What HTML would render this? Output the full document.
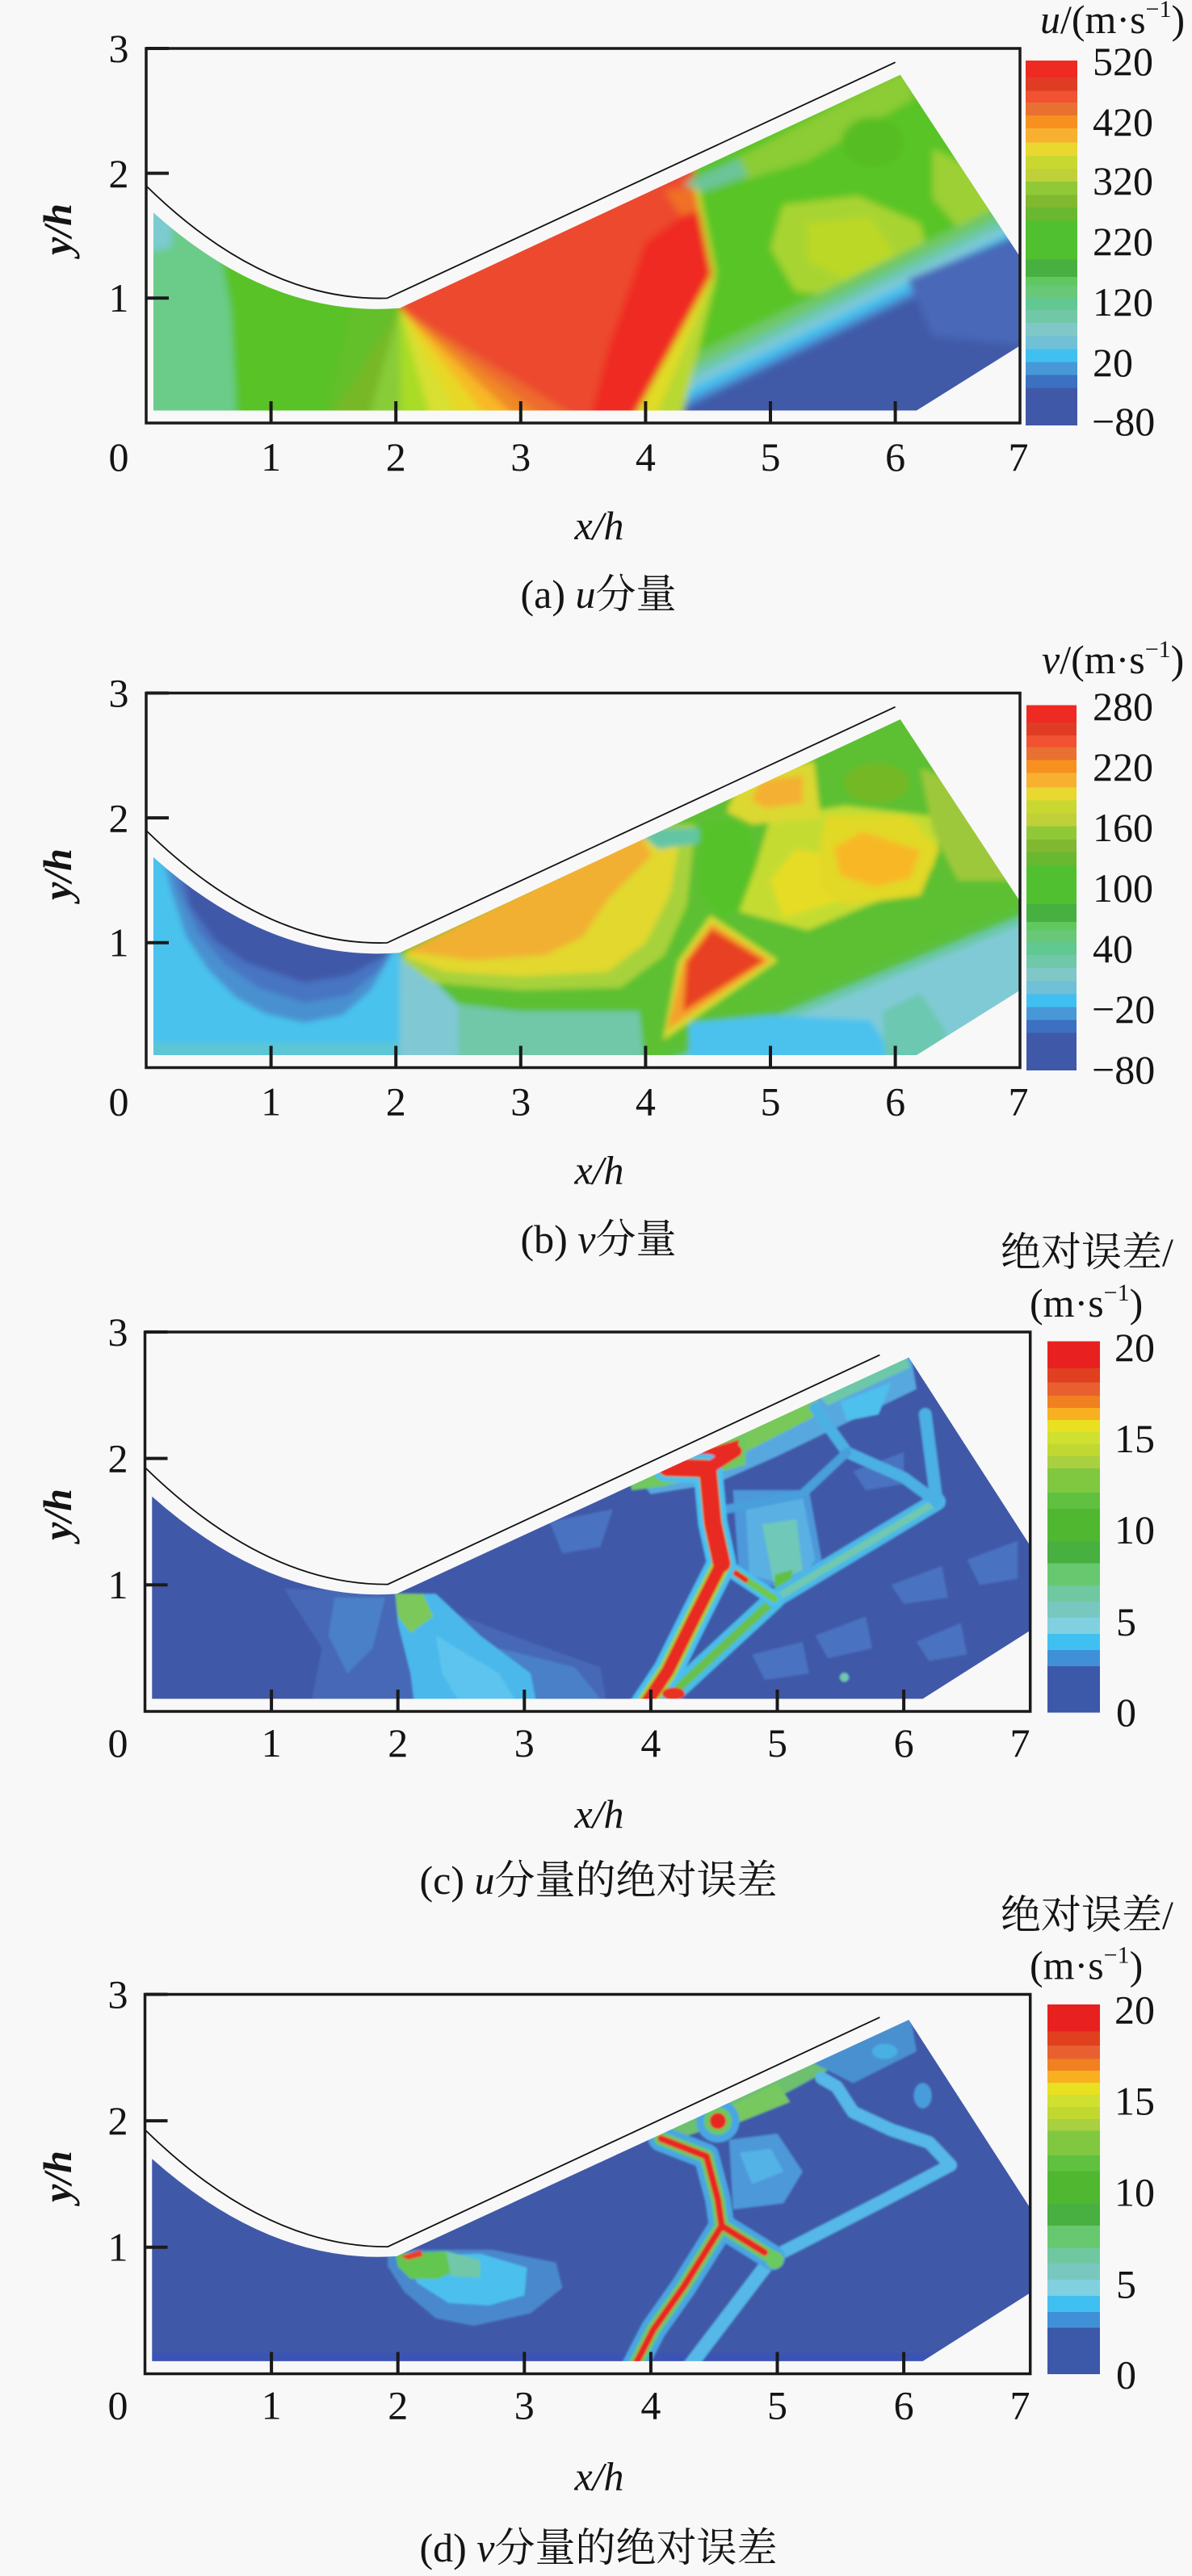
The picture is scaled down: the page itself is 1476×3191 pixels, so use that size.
<!DOCTYPE html>
<html><head><meta charset="utf-8">
<style>
html,body{margin:0;padding:0;background:#f8f8f8;}
svg{display:block;}
text{font-family:"Liberation Serif","Noto Serif CJK SC",serif;font-size:50px;fill:#141414;}
</style></head>
<body>
<svg width="1476" height="3191" viewBox="0 0 1476 3191" xmlns="http://www.w3.org/2000/svg">
<defs>
<linearGradient id="cmA" x1="0" y1="0" x2="0" y2="1">
<stop offset="0" stop-color="#ee2a22"/><stop offset=".047" stop-color="#ee2a22"/>
<stop offset=".047" stop-color="#e03c24"/><stop offset=".083" stop-color="#e03c24"/>
<stop offset=".083" stop-color="#f05232"/><stop offset=".115" stop-color="#f05232"/>
<stop offset=".115" stop-color="#e87030"/><stop offset=".150" stop-color="#e87030"/>
<stop offset=".150" stop-color="#f89020"/><stop offset=".186" stop-color="#f89020"/>
<stop offset=".186" stop-color="#f8b030"/><stop offset=".225" stop-color="#f8b030"/>
<stop offset=".225" stop-color="#e8d830"/><stop offset=".261" stop-color="#e8d830"/>
<stop offset=".261" stop-color="#c8d830"/><stop offset=".296" stop-color="#c8d830"/>
<stop offset=".296" stop-color="#c0d038"/><stop offset=".332" stop-color="#c0d038"/>
<stop offset=".332" stop-color="#90c838"/><stop offset=".368" stop-color="#90c838"/>
<stop offset=".368" stop-color="#80b830"/><stop offset=".403" stop-color="#80b830"/>
<stop offset=".403" stop-color="#68b830"/><stop offset=".439" stop-color="#68b830"/>
<stop offset=".439" stop-color="#50c030"/><stop offset=".545" stop-color="#50c030"/>
<stop offset=".545" stop-color="#48b040"/><stop offset=".593" stop-color="#48b040"/>
<stop offset=".593" stop-color="#60c860"/><stop offset=".617" stop-color="#60c860"/>
<stop offset=".617" stop-color="#68c878"/><stop offset=".648" stop-color="#68c878"/>
<stop offset=".648" stop-color="#60c890"/><stop offset=".684" stop-color="#60c890"/>
<stop offset=".684" stop-color="#70c8a8"/><stop offset=".719" stop-color="#70c8a8"/>
<stop offset=".719" stop-color="#80c8c8"/><stop offset=".755" stop-color="#80c8c8"/>
<stop offset=".755" stop-color="#70c0d8"/><stop offset=".791" stop-color="#70c0d8"/>
<stop offset=".791" stop-color="#40c0f0"/><stop offset=".826" stop-color="#40c0f0"/>
<stop offset=".826" stop-color="#4898d8"/><stop offset=".862" stop-color="#4898d8"/>
<stop offset=".862" stop-color="#3c70c0"/><stop offset=".897" stop-color="#3c70c0"/>
<stop offset=".897" stop-color="#4058a8"/><stop offset="1" stop-color="#4058a8"/>
</linearGradient>
<linearGradient id="cmC" x1="0" y1="0" x2="0" y2="1">
<stop offset="0" stop-color="#e82020"/><stop offset=".073" stop-color="#e82020"/>
<stop offset=".073" stop-color="#e04020"/><stop offset=".111" stop-color="#e04020"/>
<stop offset=".111" stop-color="#e86030"/><stop offset=".147" stop-color="#e86030"/>
<stop offset=".147" stop-color="#f08020"/><stop offset=".179" stop-color="#f08020"/>
<stop offset=".179" stop-color="#f8b020"/><stop offset=".212" stop-color="#f8b020"/>
<stop offset=".212" stop-color="#e8e020"/><stop offset=".245" stop-color="#e8e020"/>
<stop offset=".245" stop-color="#d0e030"/><stop offset=".277" stop-color="#d0e030"/>
<stop offset=".277" stop-color="#c0d830"/><stop offset=".310" stop-color="#c0d830"/>
<stop offset=".310" stop-color="#a8d040"/><stop offset=".342" stop-color="#a8d040"/>
<stop offset=".342" stop-color="#80c840"/><stop offset=".408" stop-color="#80c840"/>
<stop offset=".408" stop-color="#60c040"/><stop offset=".451" stop-color="#60c040"/>
<stop offset=".451" stop-color="#50b830"/><stop offset=".538" stop-color="#50b830"/>
<stop offset=".538" stop-color="#48b040"/><stop offset=".598" stop-color="#48b040"/>
<stop offset=".598" stop-color="#68c870"/><stop offset=".658" stop-color="#68c870"/>
<stop offset=".658" stop-color="#70c8a0"/><stop offset=".701" stop-color="#70c8a0"/>
<stop offset=".701" stop-color="#78c8c0"/><stop offset=".745" stop-color="#78c8c0"/>
<stop offset=".745" stop-color="#80d0e0"/><stop offset=".788" stop-color="#80d0e0"/>
<stop offset=".788" stop-color="#40c0f0"/><stop offset=".832" stop-color="#40c0f0"/>
<stop offset=".832" stop-color="#4090d8"/><stop offset=".875" stop-color="#4090d8"/>
<stop offset=".875" stop-color="#3c58a8"/><stop offset="1" stop-color="#3c58a8"/>
</linearGradient>
<filter id="fA" x="-0.1" y="-0.1" width="1.2" height="1.2"><feGaussianBlur stdDeviation="0.03"/></filter>
<filter id="fB" x="-0.1" y="-0.1" width="1.2" height="1.2"><feGaussianBlur stdDeviation="0.022"/></filter>
<filter id="fC" x="-0.1" y="-0.1" width="1.2" height="1.2"><feGaussianBlur stdDeviation="0.009"/></filter>
<clipPath id="domAB" clipPathUnits="userSpaceOnUse"><path d="M0.058,0.1 L0.058,1.686 Q1.0,0.84 2.03,0.92 L6.04,2.79 L7.0,1.33 L7.0,0.62 L6.17,0.1 Z"/></clipPath>
<clipPath id="domCD" clipPathUnits="userSpaceOnUse"><path d="M0.056,0.1 L0.056,1.70 Q1.0,0.86 1.99,0.93 L6.04,2.80 L7.0,1.31 L7.0,0.64 L6.15,0.1 Z"/></clipPath>
</defs>

<!-- ================= PANEL A ================= -->
<g transform="translate(181,524) scale(154.6,-154.6)">
 <g clip-path="url(#domAB)">
  <g filter="url(#fA)">
   <rect x="-1" y="-1" width="10" height="6" fill="#58c228"/>
   <polygon points="-1,-1 0.62,-1 0.72,0.1 0.68,0.9 0.55,1.6 0.45,3 -1,3" fill="#6acc88"/>
   <polygon points="-1,1.25 0.2,1.4 0.28,3 -1,3" fill="#7ccbd0"/>
   <polygon points="1.2,-1 1.78,-1 1.9,0.5 2.0,0.95 1.7,1.2" fill="#6cbc2a" opacity="0.6"/>
   <polygon points="2.03,0.92 3.52,0 3.879,0 4.53,1.19 4.39,1.88 4.39,3.5 2.03,3.5" fill="#ec4a2e"/>
   <polygon points="3.55,0 3.879,0 4.53,1.19 4.42,1.75 4.0,1.45 3.7,0.6" fill="#ee2a20"/>
   <polygon points="4.15,1.86 4.39,1.9 4.44,1.7 4.28,1.66" fill="#f07028"/>
   <polygon points="2.03,0.92 1.459,0 1.773,0" fill="#78b828"/>
   <polygon points="2.03,0.92 1.773,0 2.041,0" fill="#88cc38"/>
   <polygon points="2.03,0.92 2.041,0 2.288,0" fill="#a8dc28"/>
   <polygon points="2.03,0.92 2.288,0 2.53,0" fill="#d8e030"/>
   <polygon points="2.03,0.92 2.53,0 2.772,0" fill="#e8d828"/>
   <polygon points="2.03,0.92 2.772,0 3.008,0" fill="#f8b828"/>
   <polygon points="2.03,0.92 3.008,0 3.25,0" fill="#f08828"/>
   <polygon points="2.03,0.92 3.25,0 3.52,0" fill="#ee6a2e"/>
   <!-- right of shock -->
   <polygon points="3.879,0 4.53,1.19 4.39,1.88 4.39,4 9,4 9,-1 3.33,-1" fill="#58c428"/>
   <polygon points="4.6,2.05 6.1,2.85 6.15,2.6 5.3,2.1 4.8,1.95" fill="#8ccc34"/>
   <polygon points="4.3,1.92 4.75,2.12 4.82,1.98 4.45,1.85" fill="#6cc498"/>
   <ellipse cx="5.82" cy="2.25" rx="0.25" ry="0.2" fill="#56be22"/>
   <polygon points="6.3,2.2 6.7,2.0 7.1,1.45 6.6,1.45 6.3,1.8" fill="#9cd034"/>
   <polygon points="5.1,1.75 5.7,1.82 6.2,1.6 6.3,1.2 5.8,1.0 5.2,1.05 5.0,1.4" fill="#a8d430"/>
   <polygon points="5.3,1.6 5.8,1.65 6.0,1.35 5.6,1.15 5.3,1.3" fill="#bcd828"/>
   <polygon points="4.104,0.41 8,2.308 8,-1 3.33,-1" fill="#70c868"/>
   <polygon points="4.029,0.274 8,2.208 8,-1 3.33,-1" fill="#6cc8a8"/>
   <polygon points="3.969,0.165 8,2.128 8,-1 3.33,-1" fill="#7cc8d8"/>
   <polygon points="3.91,0.056 8,2.048 8,-1 3.33,-1" fill="#44c0ee"/>
   <polygon points="3.857,-0.04 8,1.978 8,-1 3.33,-1" fill="#4a90d4"/>
   <polygon points="3.813,-0.121 8,1.918 8,-1 3.33,-1" fill="#3f5aa8"/>
   <polygon points="6.1,1.15 7.2,1.6 7.2,0.6 6.3,0.7" fill="#4a68b8"/>
   <polygon points="3.88,0 4.28,0 4.56,1.15 4.53,1.19" fill="#b8d830"/>
   <polygon points="3.88,0 4.06,0 4.55,1.19 4.53,1.19" fill="#e0dc28"/>
   <polyline points="4.55,1.19 4.41,1.88" fill="none" stroke="#d8dc30" stroke-width="0.03"/>
  </g>
 </g>
 <path d="M0,1.9 Q0.95,0.97 1.93,1.0 L6.0,2.89" fill="none" stroke="#111" stroke-width="1.8" vector-effect="non-scaling-stroke"/>
</g>
<rect x="181" y="60" width="1082" height="464" fill="none" stroke="#1a1a1a" stroke-width="3.5"/>
<g stroke="#1a1a1a" stroke-width="4">
 <line x1="181" y1="60" x2="209" y2="60"/><line x1="181" y1="214.6" x2="209" y2="214.6"/><line x1="181" y1="369.2" x2="209" y2="369.2"/>
 <line x1="335.6" y1="524" x2="335.6" y2="497"/><line x1="490.2" y1="524" x2="490.2" y2="497"/><line x1="644.8" y1="524" x2="644.8" y2="497"/>
 <line x1="799.4" y1="524" x2="799.4" y2="497"/><line x1="954" y1="524" x2="954" y2="497"/><line x1="1108.6" y1="524" x2="1108.6" y2="497"/>
</g>
<g text-anchor="middle">
 <text x="147" y="77">3</text><text x="147" y="232">2</text><text x="147" y="386">1</text>
 <text x="147" y="583">0</text><text x="335.6" y="583">1</text><text x="490.2" y="583">2</text><text x="644.8" y="583">3</text>
 <text x="799.4" y="583">4</text><text x="954" y="583">5</text><text x="1108.6" y="583">6</text><text x="1261" y="583">7</text>
 <text x="742" y="668" font-style="italic">x/h</text>
 <text x="741" y="753">(a) <tspan font-style="italic">u</tspan>分量</text>
 <text transform="translate(88,284) rotate(-90)" font-style="italic" font-weight="bold">y/h</text>
</g>
<rect x="1270" y="75" width="64" height="452" fill="url(#cmA)"/>
<text x="1288" y="41"><tspan font-style="italic">u</tspan>/(m·s<tspan font-size="30" dy="-20">−1</tspan><tspan dy="20">)</tspan></text>
<g>
 <text x="1353" y="93">520</text><text x="1353" y="168">420</text><text x="1353" y="241">320</text><text x="1353" y="316">220</text>
 <text x="1353" y="391">120</text><text x="1353" y="466">20</text><text x="1352" y="539">−80</text>
</g>

<!-- ================= PANEL B ================= -->
<g transform="translate(181,1322.5) scale(154.6,-154.6)">
 <g clip-path="url(#domAB)">
  <g filter="url(#fB)">
   <rect x="-1" y="-1" width="10" height="6" fill="#5cc030"/>
   <!-- left region -->
   <polygon points="-1,-1 2.03,-1 2.03,4 -1,4" fill="#48c2ee"/>
   <polygon points="-1,-1 2.03,-1 2.03,0.2 -1,0.2" fill="#5cc6d4"/>
   <polygon points="0.12,1.75 0.2,1.42 0.32,1.05 0.5,0.78 0.72,0.56 0.96,0.43 1.265,0.36 1.57,0.42 1.8,0.62 1.95,0.88 2.1,1.5 0.3,2.5" fill="#4a90d0"/>
   <polygon points="0.18,1.75 0.27,1.4 0.42,1.08 0.62,0.84 0.9,0.64 1.27,0.52 1.62,0.58 1.86,0.78 1.98,0.95 2.1,1.5 0.5,2.5" fill="#4674c2"/>
   <polygon points="0.25,1.75 0.35,1.3 0.55,1.02 0.8,0.84 1.265,0.68 1.63,0.74 1.88,0.88 2.0,1.0 1.0,2.5" fill="#3f58a8"/>
   <!-- middle region -->
   <polygon points="2.03,-1 4.1,-1 3.95,0.45 3.0,0.45 2.4,0.52 2.03,0.62" fill="#70c8a8"/>
   <polygon points="2.03,-1 2.5,-1 2.5,0.5 2.2,0.8 2.03,0.9" fill="#80c8d4"/>
   <polygon points="2.05,0.86 2.3,0.68 3.0,0.62 3.8,0.64 4.15,0.9 4.33,1.3 4.4,1.95 4.0,1.95" fill="#a8d23a"/>
   <polygon points="2.05,0.9 2.4,0.77 3.0,0.73 3.7,0.77 4.0,1.0 4.2,1.4 4.28,1.88 4.0,1.9" fill="#e2d82e"/>
   <polygon points="2.08,0.93 2.6,0.86 3.2,0.9 3.5,1.05 3.7,1.35 4.05,1.7 3.95,1.88" fill="#f2b030"/>
   <polygon points="3.9,1.92 4.43,1.92 4.43,1.8 4.1,1.75" fill="#62c6a4"/>
   <!-- right region -->
   <polygon points="4.45,1.95 4.8,1.98 4.9,1.6 4.85,1.3 4.6,1.2 4.43,1.4" fill="#56c22a"/>
   <polygon points="4.75,1.25 5.3,1.1 5.9,1.35 6.3,1.6 6.4,2.0 5.6,2.1 5.0,2.0 4.88,1.6" fill="#c4dc30"/>
   <polygon points="5.1,1.2 5.6,1.35 5.5,1.7 5.2,1.75 5.0,1.5" fill="#e6dc26"/>
   <polygon points="6.2,2.4 6.6,2.25 6.95,1.5 6.5,1.5 6.3,1.9" fill="#9ec83a"/>
   <ellipse cx="5.85" cy="2.28" rx="0.26" ry="0.16" fill="#74b828"/>
   <polygon points="4.8,2.4 5.35,2.45 5.4,2.0 4.85,1.95 4.65,2.05" fill="#dcd830"/>
   <polygon points="4.92,2.3 5.26,2.34 5.26,2.12 4.96,2.08 4.85,2.14" fill="#f4b030"/>
   <polygon points="5.45,2.02 6.1,2.02 6.35,1.75 6.2,1.38 5.6,1.3 5.4,1.45 5.4,1.8" fill="#e2d828"/>
   <polygon points="5.73,1.89 6.2,1.74 6.12,1.52 5.84,1.45 5.56,1.54 5.51,1.76" fill="#f8b828"/>
   <polygon points="3.8,0 8,1.724 8,-1 3.8,-1" fill="#5cc03a"/>
   <polygon points="3.9,-0.05 8,1.624 8,-1 3.9,-1" fill="#6cc8a8"/>
   <polygon points="3.95,-0.1 8,1.55 8,-1 3.95,-1" fill="#80cad6"/>
   <polygon points="4.35,-0.5 4.35,0.36 5.0,0.42 5.8,0.38 5.95,0.15 5.95,-0.5" fill="#4cc2ee"/>
   <polygon points="5.95,-0.5 5.9,0.45 6.2,0.6 6.4,0.3 6.4,-0.5" fill="#6cc8b0"/>
   <!-- red triangle -->
   <polygon points="4.52,1.22 5.06,0.86 4.14,0.22 4.26,0.85" fill="#d8dc30"/>
   <polygon points="4.53,1.16 5.0,0.86 4.17,0.3 4.3,0.85" fill="#f4a02c"/>
   <polygon points="4.53,1.11 4.95,0.857 4.3,0.45 4.33,0.85" fill="#e84020"/>
  </g>
 </g>
 <path d="M0,1.9 Q0.95,0.97 1.93,1.0 L6.0,2.89" fill="none" stroke="#111" stroke-width="1.8" vector-effect="non-scaling-stroke"/>
</g>
<rect x="181" y="858.5" width="1082" height="464" fill="none" stroke="#1a1a1a" stroke-width="3.5"/>
<g stroke="#1a1a1a" stroke-width="4">
 <line x1="181" y1="858.5" x2="209" y2="858.5"/><line x1="181" y1="1013.1" x2="209" y2="1013.1"/><line x1="181" y1="1167.7" x2="209" y2="1167.7"/>
 <line x1="335.6" y1="1322.5" x2="335.6" y2="1295.5"/><line x1="490.2" y1="1322.5" x2="490.2" y2="1295.5"/><line x1="644.8" y1="1322.5" x2="644.8" y2="1295.5"/>
 <line x1="799.4" y1="1322.5" x2="799.4" y2="1295.5"/><line x1="954" y1="1322.5" x2="954" y2="1295.5"/><line x1="1108.6" y1="1322.5" x2="1108.6" y2="1295.5"/>
</g>
<g text-anchor="middle">
 <text x="147" y="875.5">3</text><text x="147" y="1030.5">2</text><text x="147" y="1184.5">1</text>
 <text x="147" y="1381.5">0</text><text x="335.6" y="1381.5">1</text><text x="490.2" y="1381.5">2</text><text x="644.8" y="1381.5">3</text>
 <text x="799.4" y="1381.5">4</text><text x="954" y="1381.5">5</text><text x="1108.6" y="1381.5">6</text><text x="1261" y="1381.5">7</text>
 <text x="742" y="1466.5" font-style="italic">x/h</text>
 <text x="741" y="1552">(b) <tspan font-style="italic">v</tspan>分量</text>
 <text transform="translate(88,1083) rotate(-90)" font-style="italic" font-weight="bold">y/h</text>
</g>
<rect x="1271" y="873.5" width="62" height="452.5" fill="url(#cmA)"/>
<text x="1290" y="834"><tspan font-style="italic">v</tspan>/(m·s<tspan font-size="30" dy="-20">−1</tspan><tspan dy="20">)</tspan></text>
<g>
 <text x="1353" y="892">280</text><text x="1353" y="967">220</text><text x="1353" y="1042">160</text><text x="1353" y="1117">100</text>
 <text x="1353" y="1192">40</text><text x="1352" y="1267">−20</text><text x="1352" y="1342">−80</text>
</g>

<!-- ================= PANEL C ================= -->
<g transform="translate(179.5,2120) scale(156.6,-156.6)">
 <g clip-path="url(#domCD)">
  <g filter="url(#fC)">
   <rect x="-1" y="-1" width="10" height="6" fill="#3f58a8"/>
   <polygon points="1.1,0.97 2.0,0.95 2.9,0.6 3.6,0.35 3.75,-0.5 1.2,-0.5 1.4,0.5" fill="#4668b6"/>
   <polygon points="1.5,0.9 1.9,0.9 1.8,0.5 1.6,0.3 1.45,0.6" fill="#4a80c8"/>
   <polygon points="2.8,0.5 3.4,0.35 3.6,0.1 3.0,0.05" fill="#4a80c8"/>
   <polygon points="1.98,0.93 2.3,0.93 2.65,0.6 3.05,0.3 3.2,-0.5 2.2,-0.5 2.1,0.3 2.0,0.7" fill="#4cb8ec"/>
   <polygon points="2.3,0.6 2.8,0.3 2.95,0.05 2.5,0.05 2.35,0.3" fill="#5cc4ee"/>
   <polygon points="1.98,0.93 2.2,0.93 2.28,0.75 2.1,0.62 2.0,0.75" fill="#7cc85a"/>
   <!-- near-wall strip -->
   <polygon points="3.9,1.84 6.05,2.85 6.1,2.55 5.0,2.02 4.5,1.8 4.0,1.72" fill="#58a8e0"/>
   <polygon points="4.1,1.95 5.3,2.5 5.35,2.36 4.45,1.9" fill="#78c85a"/>
   <polygon points="5.3,2.52 6.0,2.85 6.05,2.72 5.4,2.42" fill="#6cc8a8"/>
   <polygon points="5.5,2.45 5.9,2.6 5.8,2.35 5.55,2.3" fill="#4ec0ee"/>
   <polygon points="3.85,1.75 4.1,1.78 4.5,1.88 4.75,1.95 4.75,2.3 3.8,2.0" fill="#70c860"/>
   <polygon points="4.05,1.9 4.45,2.08 4.7,2.15 4.68,2.04 4.45,1.93 4.15,1.85" fill="#e82a20"/>
   <!-- light patch near junction -->
   <polygon points="4.65,1.75 5.25,1.75 5.35,1.2 5.15,0.95 4.7,1.05" fill="#4e98da"/>
   <polygon points="4.75,1.62 5.2,1.7 5.3,1.2 5.15,0.98 4.78,1.08" fill="#5ab0e2"/>
   <polygon points="4.88,1.48 5.15,1.52 5.2,1.12 4.97,1.02" fill="#70c8b8"/>
   <polygon points="4.98,1.08 5.12,1.12 5.1,0.92 4.98,0.92" fill="#60c040"/>
   <!-- lighter mottling in right -->
   <g fill="#4a72c0">
    <polygon points="5.3,0.6 5.7,0.75 5.75,0.5 5.4,0.42"/>
    <polygon points="5.9,1.0 6.3,1.15 6.35,0.9 6.0,0.85"/>
    <polygon points="6.1,0.55 6.45,0.7 6.5,0.45 6.2,0.4"/>
    <polygon points="6.5,1.2 6.9,1.35 6.9,1.05 6.6,1.0"/>
    <polygon points="4.8,0.45 5.2,0.55 5.25,0.3 4.9,0.25"/>
    <polygon points="5.6,1.9 6.0,2.05 6.0,1.8 5.7,1.75"/>
    <polygon points="3.2,1.5 3.7,1.6 3.6,1.3 3.3,1.25"/>
   </g>
   <!-- lines -->
   <g fill="none" stroke-linecap="round" stroke-linejoin="round">
    <path d="M4.98,0.89 L4.07,0.05" stroke="#48bce8" stroke-width="0.16"/>
    <path d="M4.98,0.89 L4.07,0.05" stroke="#68c050" stroke-width="0.07"/>
    <path d="M4.98,0.89 L6.26,1.66" stroke="#4cb8e8" stroke-width="0.14"/>
    <path d="M4.98,0.89 L6.26,1.66" stroke="#70c8b0" stroke-width="0.06"/>
    <path d="M6.26,1.66 L6.17,2.35" stroke="#4cb0e4" stroke-width="0.1"/>
    <path d="M5.3,2.4 L5.55,2.05 L6.0,1.85 L6.26,1.66" stroke="#4cb0e4" stroke-width="0.09"/>
    <path d="M4.6,1.6 L5.2,1.72 L5.55,2.05" stroke="#4a9edc" stroke-width="0.07"/>
    <path d="M4.56,1.17 L4.98,0.89" stroke="#48c0f0" stroke-width="0.12"/>
    <path d="M4.56,1.17 L4.98,0.89" stroke="#70c850" stroke-width="0.06"/>
    <path d="M4.56,1.17 L4.75,1.04" stroke="#e82a20" stroke-width="0.045"/>
    <path d="M4.13,1.93 L4.45,1.92 L4.49,1.49 L4.56,1.17 L4.345,0.746 L4.133,0.319 L3.92,0.0" stroke="#48c0f0" stroke-width="0.23"/>
    <path d="M4.13,1.93 L4.45,1.92 L4.49,1.49 L4.56,1.17 L4.345,0.746 L4.133,0.319 L3.92,0.0" stroke="#9cd040" stroke-width="0.15"/>
    <path d="M4.56,1.17 L4.345,0.746 L4.133,0.319 L3.92,0.0" stroke="#e82a20" stroke-width="0.1"/>
    <path d="M4.13,1.93 L4.45,1.92 L4.49,1.49 L4.56,1.17" stroke="#e82a20" stroke-width="0.14"/>
    <path d="M4.45,1.92 L4.67,2.06" stroke="#e82a20" stroke-width="0.1"/>
   </g>
   <ellipse cx="4.18" cy="0.14" rx="0.09" ry="0.05" fill="#e83020"/>
   <circle cx="5.53" cy="0.27" r="0.035" fill="#70c8b0"/>
  </g>
 </g>
 <path d="M0,1.93 Q0.95,1.0 1.92,1.005 L5.81,2.82" fill="none" stroke="#111" stroke-width="1.8" vector-effect="non-scaling-stroke"/>
</g>
<rect x="179.5" y="1650" width="1096.2" height="470" fill="none" stroke="#1a1a1a" stroke-width="3.5"/>
<g stroke="#1a1a1a" stroke-width="4">
 <line x1="179.5" y1="1650" x2="207.5" y2="1650"/><line x1="179.5" y1="1806.6" x2="207.5" y2="1806.6"/><line x1="179.5" y1="1963.2" x2="207.5" y2="1963.2"/>
 <line x1="336.1" y1="2120" x2="336.1" y2="2093"/><line x1="492.7" y1="2120" x2="492.7" y2="2093"/><line x1="649.3" y1="2120" x2="649.3" y2="2093"/>
 <line x1="805.9" y1="2120" x2="805.9" y2="2093"/><line x1="962.5" y1="2120" x2="962.5" y2="2093"/><line x1="1119.1" y1="2120" x2="1119.1" y2="2093"/>
</g>
<g text-anchor="middle">
 <text x="146" y="1667">3</text><text x="146" y="1823.6">2</text><text x="146" y="1980">1</text>
 <text x="146" y="2176">0</text><text x="336.1" y="2176">1</text><text x="492.7" y="2176">2</text><text x="649.3" y="2176">3</text>
 <text x="805.9" y="2176">4</text><text x="962.5" y="2176">5</text><text x="1119.1" y="2176">6</text><text x="1263" y="2176">7</text>
 <text x="742" y="2264" font-style="italic">x/h</text>
 <text x="741" y="2346">(c) <tspan font-style="italic">u</tspan>分量的绝对误差</text>
 <text transform="translate(88,1876) rotate(-90)" font-style="italic" font-weight="bold">y/h</text>
 <text x="1346" y="1568">绝对误差/</text>
</g>
<rect x="1297" y="1661.5" width="65" height="460" fill="url(#cmC)"/>
<text x="1275" y="1631">(m·s<tspan font-size="30" dy="-20">−1</tspan><tspan dy="20">)</tspan></text>
<g>
 <text x="1380" y="1686">20</text><text x="1380" y="1799">15</text><text x="1380" y="1912">10</text><text x="1382" y="2026">5</text><text x="1382" y="2138">0</text>
</g>

<!-- ================= PANEL D ================= -->
<g transform="translate(179.5,2940.5) scale(156.6,-156.6)">
 <g clip-path="url(#domCD)">
  <g filter="url(#fC)">
   <rect x="-1" y="-1" width="10" height="6" fill="#3f58a8"/>
   <polygon points="-1,-1 8,-1 8,0.16 -1,0.16" fill="#3a52b4"/>
   <polygon points="1.92,0.98 2.75,0.98 3.25,0.88 3.3,0.68 3.05,0.48 2.6,0.38 2.3,0.44 2.05,0.65 1.92,0.85" fill="#4a88cc"/>
   <polygon points="2.08,0.93 2.65,0.95 3.02,0.84 3.0,0.62 2.72,0.54 2.4,0.56 2.15,0.72" fill="#4cc0ee"/>
   <polygon points="1.98,0.95 2.38,0.97 2.5,0.84 2.32,0.75 2.1,0.75 2.0,0.85" fill="#64c650"/>
   <polygon points="2.38,0.97 2.65,0.9 2.65,0.76 2.42,0.77" fill="#70c8a8"/>
   <polygon points="2.02,0.93 2.18,0.98 2.2,0.93 2.08,0.9" fill="#e84020"/>
   <!-- wall strip -->
   <polygon points="4.0,1.92 5.3,2.55 5.4,2.4 4.7,2.02 4.1,1.82" fill="#6cc070"/>
   <polygon points="5.2,2.5 6.05,2.85 6.1,2.55 5.6,2.3" fill="#4a90d0"/>
   <polygon points="4.5,2.05 5.0,2.3 5.1,2.15 4.6,1.95" fill="#78c860"/>
   <polygon points="4.62,1.85 5.0,1.9 5.2,1.6 5.05,1.35 4.65,1.3" fill="#4e98d8"/>
   <polygon points="4.7,1.75 4.95,1.78 5.05,1.6 4.8,1.5" fill="#52b2e6"/>
   <ellipse cx="5.85" cy="2.55" rx="0.1" ry="0.06" fill="#4ab0e4"/>
   <ellipse cx="6.15" cy="2.2" rx="0.07" ry="0.1" fill="#4a9cdc"/>
   <g fill="none" stroke-linecap="round" stroke-linejoin="round">
    <path d="M4.96,0.92 L4.26,0.0" stroke="#56b8e8" stroke-width="0.11"/>
    <path d="M4.96,0.92 L5.8,1.35 L6.37,1.65 L6.2,1.83 L5.9,1.93 L5.6,2.07 L5.47,2.27 L5.35,2.34" stroke="#56b8e8" stroke-width="0.1"/>
    <path d="M4.08,1.86 L4.44,1.72 L4.53,1.38 L4.56,1.17 L4.26,0.69 L4.02,0.35 L3.84,0.0 M4.56,1.17 L4.96,0.92" stroke="#4aa6e2" stroke-width="0.2"/>
    <path d="M4.08,1.86 L4.44,1.72 L4.53,1.38 L4.56,1.17 L4.26,0.69 L4.02,0.35 L3.84,0.0 M4.56,1.17 L4.96,0.92" stroke="#6cc860" stroke-width="0.11"/>
    <path d="M4.08,1.86 L4.44,1.72 L4.53,1.38 L4.56,1.17 L4.26,0.69 L4.02,0.35 L3.84,0.0 M4.56,1.17 L4.9,0.96" stroke="#e82820" stroke-width="0.055"/>
   </g>
   <circle cx="4.98" cy="0.9" r="0.07" fill="#6cc860"/>
   <circle cx="4.53" cy="2.0" r="0.17" fill="#4aa6e2"/>
   <circle cx="4.53" cy="2.0" r="0.11" fill="#6cc860"/>
   <circle cx="4.53" cy="2.0" r="0.065" fill="#e82820"/>
  </g>
 </g>
 <path d="M0,1.93 Q0.95,1.0 1.92,1.005 L5.81,2.82" fill="none" stroke="#111" stroke-width="1.8" vector-effect="non-scaling-stroke"/>
</g>
<rect x="179.5" y="2470.5" width="1096.2" height="470" fill="none" stroke="#1a1a1a" stroke-width="3.5"/>
<g stroke="#1a1a1a" stroke-width="4">
 <line x1="179.5" y1="2470.5" x2="207.5" y2="2470.5"/><line x1="179.5" y1="2627.1" x2="207.5" y2="2627.1"/><line x1="179.5" y1="2783.7" x2="207.5" y2="2783.7"/>
 <line x1="336.1" y1="2940.5" x2="336.1" y2="2913.5"/><line x1="492.7" y1="2940.5" x2="492.7" y2="2913.5"/><line x1="649.3" y1="2940.5" x2="649.3" y2="2913.5"/>
 <line x1="805.9" y1="2940.5" x2="805.9" y2="2913.5"/><line x1="962.5" y1="2940.5" x2="962.5" y2="2913.5"/><line x1="1119.1" y1="2940.5" x2="1119.1" y2="2913.5"/>
</g>
<g text-anchor="middle">
 <text x="146" y="2487.5">3</text><text x="146" y="2644.1">2</text><text x="146" y="2800.5">1</text>
 <text x="146" y="2996.5">0</text><text x="336.1" y="2996.5">1</text><text x="492.7" y="2996.5">2</text><text x="649.3" y="2996.5">3</text>
 <text x="805.9" y="2996.5">4</text><text x="962.5" y="2996.5">5</text><text x="1119.1" y="2996.5">6</text><text x="1263" y="2996.5">7</text>
 <text x="742" y="3084.5" font-style="italic">x/h</text>
 <text x="741" y="3173">(d) <tspan font-style="italic">v</tspan>分量的绝对误差</text>
 <text transform="translate(88,2696) rotate(-90)" font-style="italic" font-weight="bold">y/h</text>
 <text x="1346" y="2389">绝对误差/</text>
</g>
<rect x="1297" y="2483" width="65" height="458" fill="url(#cmC)"/>
<text x="1275" y="2451.5">(m·s<tspan font-size="30" dy="-20">−1</tspan><tspan dy="20">)</tspan></text>
<g>
 <text x="1380" y="2506.5">20</text><text x="1380" y="2619.5">15</text><text x="1380" y="2732.5">10</text><text x="1382" y="2846.5">5</text><text x="1382" y="2958.5">0</text>
</g>
</svg>
</body></html>
